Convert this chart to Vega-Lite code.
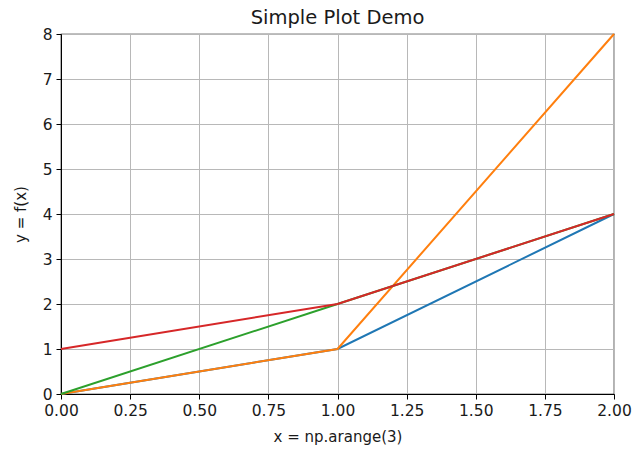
{
  "$schema": "https://vega.github.io/schema/vega-lite/v6.json",
  "autosize": "none",
  "width": 553,
  "height": 360,
  "padding": {"left": 61, "top": 34, "right": 19, "bottom": 56},
  "background": "white",
  "title": {"text": "Simple Plot Demo", "font": "DejaVu Sans", "fontSize": 19.5, "fontWeight": "normal", "color": "#1a1a1a", "anchor": "middle", "offset": -1},
  "config": {
    "view": {"stroke": "black", "strokeWidth": 1.2},
    "axis": {
      "labelFont": "DejaVu Sans", "labelFontSize": 15.5, "labelColor": "#1a1a1a", "labelFlush": false,
      "titleFont": "DejaVu Sans", "titleFontSize": 15, "titleFontWeight": "normal", "titleColor": "#1a1a1a",
      "domainColor": "black", "tickColor": "black", "tickSize": 5, "labelPadding": 4,
      "gridColor": "#b8b8b8", "gridWidth": 1
    }
  },
  "data": {"values": [
    {"x": 0, "y": 0, "s": "x^2"}, {"x": 1, "y": 1, "s": "x^2"}, {"x": 2, "y": 4, "s": "x^2"},
    {"x": 0, "y": 0, "s": "x^3"}, {"x": 1, "y": 1, "s": "x^3"}, {"x": 2, "y": 8, "s": "x^3"},
    {"x": 0, "y": 0, "s": "2x"}, {"x": 1, "y": 2, "s": "2x"}, {"x": 2, "y": 4, "s": "2x"},
    {"x": 0, "y": 1, "s": "2^x"}, {"x": 1, "y": 2, "s": "2^x"}, {"x": 2, "y": 4, "s": "2^x"}
  ]},
  "encoding": {
    "x": {"field": "x", "type": "quantitative", "scale": {"domain": [0, 2], "nice": false},
      "axis": {"values": [0, 0.25, 0.5, 0.75, 1, 1.25, 1.5, 1.75, 2], "format": ".2f", "title": "x = np.arange(3)", "titlePadding": 11}},
    "y": {"field": "y", "type": "quantitative", "scale": {"domain": [0, 8], "nice": false},
      "axis": {"values": [0, 1, 2, 3, 4, 5, 6, 7, 8], "title": "y = f(x)", "titlePadding": 14}}
  },
  "layer": [
    {"transform": [{"filter": "datum.s === 'x^2'"}], "mark": {"type": "line", "color": "#1f77b4", "strokeWidth": 2}},
    {"transform": [{"filter": "datum.s === 'x^3'"}], "mark": {"type": "line", "color": "#ff7f0e", "strokeWidth": 2}},
    {"transform": [{"filter": "datum.s === '2x'"}], "mark": {"type": "line", "color": "#2ca02c", "strokeWidth": 2}},
    {"transform": [{"filter": "datum.s === '2^x'"}], "mark": {"type": "line", "color": "#d62728", "strokeWidth": 2}}
  ]
}
